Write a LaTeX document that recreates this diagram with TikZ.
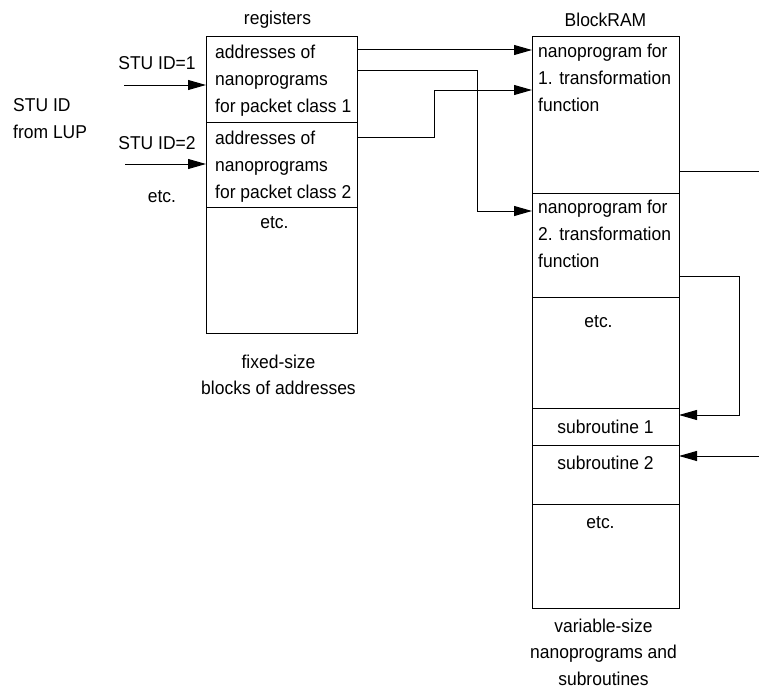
\documentclass[tikz,border=0pt]{standalone}
\usepackage{fontspec}
\setmainfont[FakeStretch=0.94]{Liberation Sans}
\usetikzlibrary{arrows.meta}

\begin{document}
\begin{tikzpicture}[x=1pt,y=-1pt,
  every node/.style={font=\fontsize{18.6}{27}\selectfont},
  cell/.style={draw,line width=1pt,inner sep=0pt,outer sep=0pt,anchor=north west,minimum width=151pt},
  ramcell/.style={cell,minimum width=147pt},
  txt/.style={inner sep=0pt,anchor=base west,align=left},
  lbl/.style={inner sep=0pt,anchor=base,align=center},
  arr/.style={-{Triangle[length=18pt,width=10pt]},line width=1pt}]
\useasboundingbox (0,0) rectangle (759,693);
% registers
\node[cell,minimum height=85pt] (r1) at (206,37) {};
\node[cell,minimum height=85pt] (r2) at (206,122) {};
\node[cell,minimum height=126pt] (r3) at (206,207) {};
\node[txt] (r1t) at ([xshift=9pt,yshift=-75pt]r1.north west) {addresses of\\nanoprograms\\for packet class 1};
\node[txt] (r2t) at ([xshift=9pt,yshift=-76pt]r2.north west) {addresses of\\nanoprograms\\for packet class 2};
\node[lbl] (r3t) at ([xshift=-7pt,yshift=-21pt]r3.north) {etc.};
\node[lbl] (reglbl) at ([xshift=-4pt,yshift=12pt]r1.north) {registers};
\node[lbl,font=\fontsize{18.6}{26}\selectfont] (regsub) at ([xshift=-3pt,yshift=-61pt]r3.south) {fixed-size\\blocks of addresses};
% BlockRAM
\node[ramcell,minimum height=156pt] (b1) at (532,37) {};
\node[ramcell,minimum height=104pt] (b2) at (532,193) {};
\node[ramcell,minimum height=111pt] (b3) at (532,297) {};
\node[ramcell,minimum height=37pt] (b4) at (532,408) {};
\node[ramcell,minimum height=59pt] (b5) at (532,445) {};
\node[ramcell,minimum height=104pt] (b6) at (532,504) {};
\node[txt] (b1t) at ([xshift=6pt,yshift=-74pt]b1.north west) {nanoprogram for\\1. transformation\\function};
\node[txt] (b2t) at ([xshift=6pt,yshift=-74pt]b2.north west) {nanoprogram for\\2. transformation\\function};
\node[lbl] (b3t) at ([xshift=-7pt,yshift=-30pt]b3.north) {etc.};
\node[inner sep=0pt] (b4t) at (b4.center) {subroutine 1};
\node[lbl] (b5t) at ([yshift=-24pt]b5.north) {subroutine 2};
\node[lbl] (b6t) at ([xshift=-5pt,yshift=-24pt]b6.north) {etc.};
\node[lbl] (ramlbl) at ([yshift=10pt]b1.north) {BlockRAM};
\node[lbl,font=\fontsize{18.6}{26.5}\selectfont] (ramsub) at ([xshift=-2pt,yshift=-77pt]b6.south) {variable-size\\nanoprograms and\\subroutines};
% inputs on the left
\node[txt] (lup) at (13,138) {STU ID\\from LUP};
\node[lbl] (id1) at (157,69) {STU ID=1};
\node[lbl] (id2) at (157,149) {STU ID=2};
\node[lbl] (idetc) at (162,202) {etc.};
\coordinate (in1) at (124,85);
\coordinate (in2) at (125,164);
\draw[arr] (in1) -- (in1 -| r1.west);
\draw[arr] (in2) -- (in2 -| r2.west);
% registers -> BlockRAM
\draw[arr] ([yshift=-13pt]r1.north east) -- ([yshift=-13pt]b1.north west);
\draw[arr] ([yshift=-33pt]r1.north east) -- ++(120,0) |- ([yshift=-18pt]b2.north west);
\draw[arr] ([yshift=-15pt]r2.north east) -- ++(77,0) |- ([yshift=-53pt]b1.north west);
% calls on the right
\coordinate (out1) at (759,171);
\coordinate (in3) at (759,456);
\draw[line width=1pt] (out1 -| b1.east) -- (out1);
\draw[arr] ([yshift=-83pt]b2.north east) -- ++(60,0) |- ([yshift=-7pt]b4.north east);
\draw[arr] (in3) -- (in3 -| b5.east);
\end{tikzpicture}
\end{document}
